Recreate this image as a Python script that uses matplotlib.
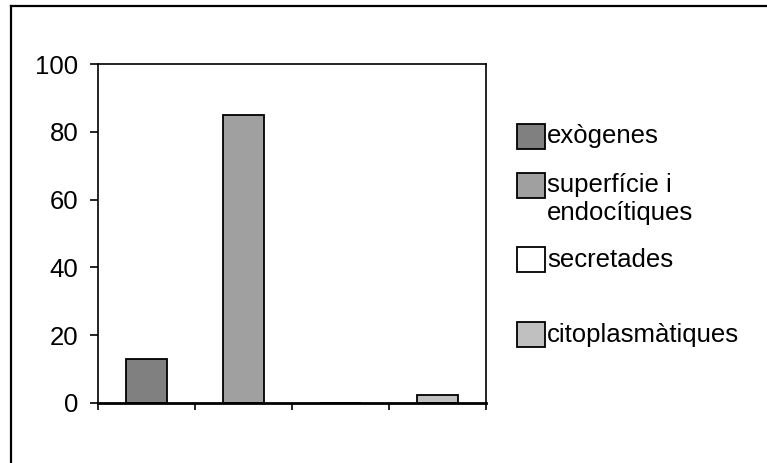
import matplotlib.pyplot as plt
from matplotlib.lines import Line2D
from matplotlib.patches import Rectangle

plt.rcParams['font.family'] = ['Liberation Sans', 'DejaVu Sans']

categories = ["exògenes", "superfície i\nendocítiques", "secretades", "citoplasmàtiques"]
values = [13, 85, 0, 2.5]
colors = ["#808080", "#a0a0a0", "#ffffff", "#c0c0c0"]
yticks = [0, 20, 40, 60, 80, 100]

W, H = 767, 463
fig = plt.figure(figsize=(W / 100, H / 100), dpi=100)

# plot area (pixel box converted to figure fractions)
ax = fig.add_axes([98 / W, 1 - 403 / H, 388 / W, 339 / H])
pos = list(range(1, len(values) + 1))
ax.bar(pos, values, width=0.43, color=colors, edgecolor="black", linewidth=1.3, zorder=3)

ax.set_xlim(0.5, len(values) + 0.5)
ax.set_ylim(0, 100)
ax.set_yticks(yticks)
ax.set_yticklabels([str(v) for v in yticks], fontsize=18.5)
ax.set_xticks([p + 0.5 for p in range(len(values) + 1)])
ax.set_xticklabels([])
ax.tick_params(axis="y", length=6, width=1.2, pad=8)
ax.tick_params(axis="x", length=5, width=1.2)
for s in ax.spines.values():
    s.set_linewidth(1.2)
ax.spines["bottom"].set_linewidth(2.0)
ax.spines["bottom"].set_zorder(4)

# legend drawn by hand, one swatch per category
# (swatch top, text centre) in pixels
legend_rows = [(124, 136), (173, 199), (247, 260), (322, 335)]
for label, color, (ptop, yc) in zip(categories, colors, legend_rows):
    fig.patches.append(Rectangle((517 / W, 1 - (ptop + 25) / H), 28 / W, 25 / H,
                                 facecolor=color, edgecolor="black", linewidth=1.3,
                                 transform=fig.transFigure, figure=fig))
    fig.text(547 / W, 1 - yc / H, label, fontsize=18.5, va="center", ha="left",
             linespacing=1.25)

# chart frame (left and top edges)
fig.add_artist(Line2D([10.5 / W, 10.5 / W], [0, 1 - 6 / H], color="black", linewidth=1.6))
fig.add_artist(Line2D([10.5 / W, 1], [1 - 6 / H, 1 - 6 / H], color="black", linewidth=1.6))

fig.savefig("out.png", dpi=100)
